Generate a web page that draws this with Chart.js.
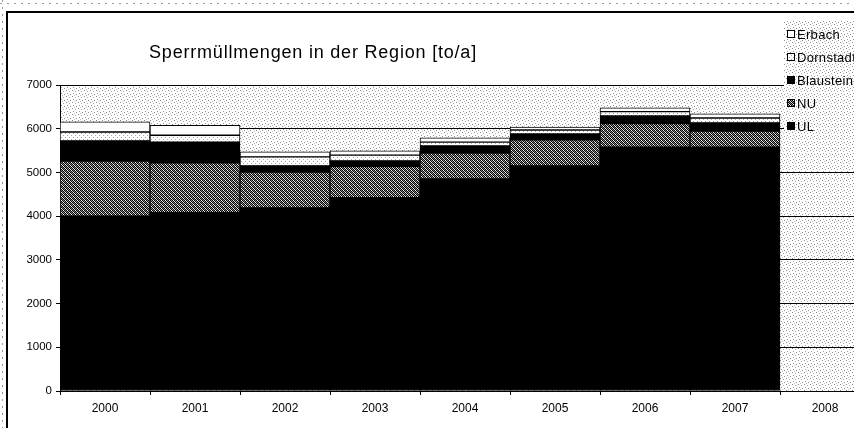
<!DOCTYPE html>
<html>
<head>
<meta charset="utf-8">
<script src="https://cdn.jsdelivr.net/npm/chart.js@4.4.1/dist/chart.umd.min.js"></script>
<style>
  html, body { margin: 0; padding: 0; background: #fff; overflow: hidden; }
  #wrap { position: absolute; left: 0; top: 0; width: 854px; height: 428px; overflow: hidden; }
  canvas { display: block; }
</style>
</head>
<body>
<div id="wrap"><canvas id="chart" width="880" height="428"></canvas></div>
<script>
// values (to/a), stacked bottom -> top
const years     = ['2000', '2001', '2002', '2003', '2004', '2005', '2006', '2007', '2008'];
const ul        = [4000, 4080, 4190, 4420, 4850, 5150, 5580, 5580, null];
const nu        = [1260, 1140, 820, 720, 595, 595, 535, 365, null];
const blaustein = [460, 475, 140, 125, 160, 135, 175, 190, null];
const dornstadt = [205, 155, 205, 130, 90, 90, 100, 110, null];
const erbach    = [230, 230, 115, 100, 95, 70, 90, 95, null];
const yTicks    = [0, 1000, 2000, 3000, 4000, 5000, 6000, 7000];

const FONT = "'Liberation Sans', Arial, sans-serif";
Chart.defaults.font.family = FONT;
Chart.defaults.color = '#000';

const canvas = document.getElementById('chart');
const ctx = canvas.getContext('2d');

// little halftone tiles, like the printed/scanned Excel fills
function tile(size, base, marks) {
  const c = document.createElement('canvas');
  c.width = size; c.height = size;
  const g = c.getContext('2d');
  g.fillStyle = base;
  g.fillRect(0, 0, size, size);
  marks.forEach(m => { g.fillStyle = m[2]; g.fillRect(m[0], m[1], 1, 1); });
  return ctx.createPattern(c, 'repeat');
}
const bgFill = tile(6, '#fff', [[0, 0, '#888'], [3, 1, '#aaa'], [1, 3, '#999'], [4, 4, '#888'], [2, 5, '#bbb']]);
const nuFill = tile(4, '#000', [[1, 0, '#fff'], [3, 0, '#888'], [0, 1, '#999'], [2, 1, '#ddd'],
                                [1, 2, '#777'], [3, 2, '#fff'], [0, 3, '#ccc'], [2, 3, '#888']]);
const dornFill = tile(4, '#fff', [[1, 1, '#999'], [3, 3, '#aaa']]);

const plotBg = {
  id: 'plotBg',
  beforeDraw(chart) {
    const a = chart.chartArea, c = chart.ctx;
    c.save();
    c.fillStyle = bgFill;
    c.fillRect(a.left, a.top, a.right - a.left, a.bottom - a.top);
    c.restore();
  }
};

const extras = {
  id: 'extras',
  afterDraw(chart) {
    const c = chart.ctx;
    c.save();
    // scanner leftovers of the page border
    c.strokeStyle = '#999';
    c.lineWidth = 1;
    c.setLineDash([2, 5]);
    c.beginPath();
    c.moveTo(0, 3.5); c.lineTo(854, 3.5);
    c.moveTo(2.5, 0); c.lineTo(2.5, 428);
    c.stroke();
    c.setLineDash([]);
    // chart frame
    c.strokeStyle = '#000';
    c.lineWidth = 2;
    c.beginPath();
    c.moveTo(7, 428); c.lineTo(7, 12); c.lineTo(880, 12);
    c.stroke();

    // title
    c.fillStyle = '#000';
    c.font = '18px ' + FONT;
    c.letterSpacing = '0.8px';
    c.textAlign = 'center';
    c.textBaseline = 'alphabetic';
    c.fillText('Sperrmüllmengen in der Region [to/a]', 313, 58);

    // legend (top of stack first)
    c.fillStyle = bgFill;
    c.fillRect(784, 20, 100, 124);
    const ds = chart.data.datasets.slice().reverse();
    c.font = '13px ' + FONT;
    c.letterSpacing = '0.3px';
    c.textAlign = 'left';
    c.textBaseline = 'middle';
    ds.forEach((d, i) => {
      const y = 34 + i * 23;
      c.fillStyle = '#000';
      c.fillRect(787, y - 4, 8, 8);
      c.fillStyle = d.backgroundColor;
      c.fillRect(788, y - 3, 6, 6);
      c.fillStyle = '#000';
      c.fillText(d.label, 797, y + 1);
    });
    c.restore();
  }
};

const series = [
  ['UL', ul, '#000'],
  ['NU', nu, nuFill],
  ['Blaustein', blaustein, '#000'],
  ['Dornstadt', dornstadt, dornFill],
  ['Erbach', erbach, '#fff']
];

new Chart(ctx, {
  type: 'bar',
  data: {
    labels: years,
    datasets: series.map(s => ({
      label: s[0],
      data: s[1],
      backgroundColor: s[2],
      borderColor: '#000',
      borderWidth: 1,
      borderSkipped: false,
      barPercentage: 1,
      categoryPercentage: 1
    }))
  },
  options: {
    responsive: false,
    animation: false,
    layout: { padding: { top: 85, right: 10, left: 0, bottom: 0 } },
    plugins: {
      legend: { display: false },
      title: { display: false },
      tooltip: { enabled: false }
    },
    scales: {
      x: {
        stacked: true,
        grid: { drawOnChartArea: false, drawTicks: true, tickLength: 4, color: '#000', offset: true },
        border: { color: '#000', width: 1 },
        ticks: { color: '#000', font: { size: 12 }, padding: 6, maxRotation: 0 },
        afterFit(s) { s.height = 37; }
      },
      y: {
        stacked: true,
        min: 0,
        max: 7000,
        afterBuildTicks(s) { s.ticks = yTicks.map(v => ({ value: v })); },
        ticks: { color: '#000', font: { size: 11.5 }, padding: 4, callback: v => String(v) },
        grid: { color: '#000', lineWidth: 1, tickLength: 4 },
        border: { color: '#000', width: 1 },
        afterFit(s) { s.width = 60; }
      }
    }
  },
  plugins: [plotBg, extras]
});
</script>
</body>
</html>
